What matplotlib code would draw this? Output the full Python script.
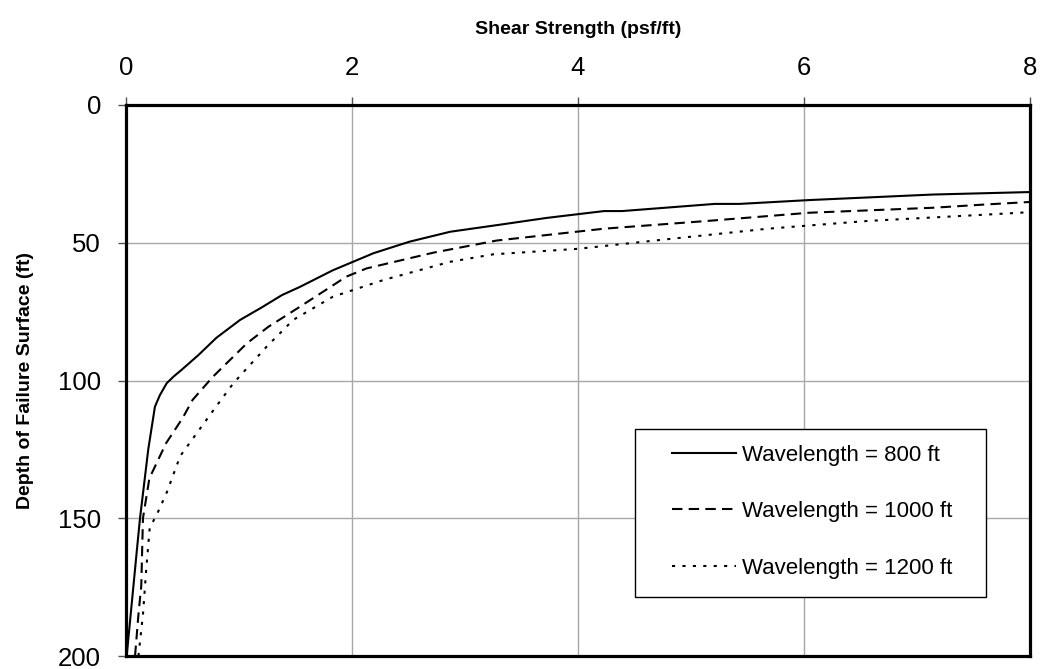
import matplotlib
matplotlib.use("Agg")
import matplotlib.pyplot as plt
from matplotlib.patches import Rectangle

plt.rcParams['font.family'] = ['Liberation Sans', 'DejaVu Sans']

# shear strength (psf/ft) vs depth of failure surface (ft)
x_800 = [0.006, 0.1, 0.124, 0.197, 0.256, 0.30, 0.36, 0.42, 0.49, 0.64, 0.8, 1.01, 1.2, 1.38,
         1.54, 1.83, 2.19, 2.51, 2.87, 3.3, 3.72, 4.23, 4.39, 5.21, 5.43, 6.05, 7.14, 8.0]
y_800 = [200, 160, 150, 125, 109.5, 105.3, 101, 98.6, 96.2, 90.8, 84.5, 78, 73.5, 69,
         66, 60, 53.8, 49.6, 46, 43.5, 41, 38.5, 38.5, 35.9, 35.9, 34.5, 32.5, 31.6]

x_1000 = [0.08, 0.11, 0.135, 0.15, 0.207, 0.354, 0.50, 0.59, 0.77, 1.07, 1.26, 1.54,
          1.95, 2.13, 2.72, 3.28, 4.23, 5.14, 6.05, 7.14, 7.61, 8.0]
y_1000 = [200, 185, 174.6, 150, 135.5, 122.8, 113.7, 107, 98.6, 86.5, 80.5, 73.2,
          62.3, 59.3, 53.6, 49.2, 44.9, 42.1, 39.1, 37.3, 36.1, 35.2]

x_1200 = [0.11, 0.15, 0.18, 0.21, 0.28, 0.36, 0.48, 0.63, 0.80, 0.95, 1.245, 1.48,
          1.83, 2.28, 2.87, 3.25, 4.0, 4.77, 5.68, 6.56, 7.65, 8.0]
y_1200 = [200, 185, 168, 153.5, 148, 140.7, 127.4, 118.9, 109.3, 101, 87.7, 78,
          69.6, 63.5, 56.9, 54.2, 52.2, 48.8, 44.9, 42.1, 39.7, 38.9]

labels = ['Wavelength = 800 ft', 'Wavelength = 1000 ft', 'Wavelength = 1200 ft']
x_ticks = [0, 2, 4, 6, 8]
y_ticks = [0, 50, 100, 150, 200]

fig = plt.figure(figsize=(10.41, 6.69), dpi=100)
ax = fig.add_axes([126 / 1041, 13 / 669, 904 / 1041, 551 / 669])

ax.plot(x_800, y_800, color='black', lw=1.5, label=labels[0])
ax.plot(x_1000, y_1000, color='black', lw=1.5, dashes=(5, 3), label=labels[1])
ax.plot(x_1200, y_1200, color='black', lw=1.5, dashes=(1.5, 3.5), label=labels[2])

ax.set_xlim(0, 8)
ax.set_ylim(200, 0)
ax.set_xticks(x_ticks)
ax.set_yticks(y_ticks)
ax.xaxis.tick_top()
ax.xaxis.set_label_position('top')
ax.tick_params(axis='both', labelsize=18.5, length=6, width=1, color='#505050')
ax.tick_params(axis='x', pad=12)
ax.tick_params(axis='y', pad=12)
ax.grid(True, color='#a8a8a8', lw=1)
ax.set_axisbelow(True)

for s in ax.spines.values():
    s.set_linewidth(2.3)
    s.set_color('black')

ax.set_xlabel('Shear Strength (psf/ft)', fontsize=14, fontweight='bold', labelpad=16)
ax.set_ylabel('Depth of Failure Surface (ft)', fontsize=14, fontweight='bold', labelpad=17)

ax.add_patch(Rectangle((0.563, 0.107), 0.388, 0.305, transform=ax.transAxes,
                       facecolor='white', edgecolor='black', lw=1, zorder=4))
leg = ax.legend(loc='center', bbox_to_anchor=(0.759, 0.262), frameon=False,
                fontsize=16, handlelength=2.9, handletextpad=0.25, labelspacing=1.6)
leg.set_zorder(5)

fig.savefig('out.png', dpi=100)
